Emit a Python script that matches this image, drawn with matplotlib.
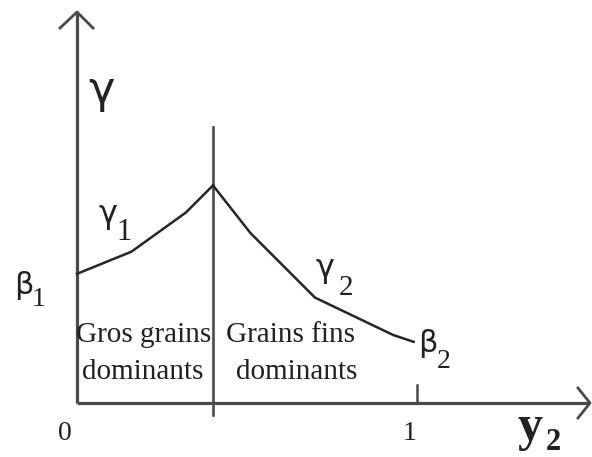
import matplotlib
matplotlib.use("Agg")
import matplotlib.pyplot as plt

# Data (y2 fraction, gamma in arbitrary units)
y2_coarse = [0.0, 0.16, 0.32, 0.40]
gamma_coarse = [0.38, 0.445, 0.56, 0.64]
y2_fine = [0.40, 0.51, 0.70, 0.93, 0.99]
gamma_fine = [0.64, 0.50, 0.31, 0.20, 0.18]
y2_split = 0.40
x_ticks = [0, 1]
x_tick_labels = ["0", "1"]

W, H = 592, 457
fig = plt.figure(figsize=(W / 100, H / 100), dpi=100)
ax = fig.add_axes([0, 0, 1, 1])
S = 340.0  # pixels per unit
x0, y0 = 77, 403
ax.set_xlim(-x0 / S, (W - x0) / S)
ax.set_ylim(-(H - y0) / S, y0 / S)
ax.axis("off")

axis_col = "#4a4a4a"
line_col = "#262626"

def px(x, y):
    return ((x - x0) / S, (y0 - y) / S)

# axes lines
ytop = px(77, 12)[1]
ax.plot([0, 0], [0, ytop], color=axis_col, lw=2.3, solid_capstyle="butt")
xend = px(590, 403)[0]
ax.plot([0, xend], [0, 0], color=axis_col, lw=2.3, solid_capstyle="butt")
# arrow heads
a = px(60, 28); b = px(93, 28)
ax.plot([a[0], 0, b[0]], [a[1], ytop, b[1]], color=axis_col, lw=2.0)
c = px(578, 388); d = px(578, 418)
ax.plot([c[0], xend, d[0]], [c[1], 0, d[1]], color=axis_col, lw=2.0)
# tick at 1
ax.plot([x_ticks[1], x_ticks[1]], [0, px(0, 385)[1]], color=axis_col, lw=1.8)

# split line
ax.plot([y2_split, y2_split], [px(0, 415)[1], px(0, 127)[1]], color=axis_col, lw=1.9)

# curves
ax.plot(y2_coarse, gamma_coarse, color=line_col, lw=1.8)
ax.plot(y2_fine, gamma_fine, color=line_col, lw=1.8)

serif = "Liberation Serif"
greek = "DejaVu Sans"

def t(x, y, s, size, family, ha="left", va="center", weight="normal"):
    fig.text(x / W, 1 - y / H, s, fontsize=size, family=family, ha=ha, va=va,
             weight=weight, color="#222222")

# tick labels
t(65, 434, x_tick_labels[0], 20, serif, ha="center")
t(410, 434, x_tick_labels[1], 20, serif, ha="center")

# axis labels
t(101, 91, "γ", 32, greek, ha="center", va="center")
t(530, 428, "y", 36, serif, ha="center", weight="bold")
t(553, 443, "2", 22, serif, ha="center", weight="bold")

# gamma1
t(108, 214, "γ", 23, greek, ha="center")
t(124, 232, "1", 22, serif, ha="center")
# beta1
t(24, 286, "β", 22, greek, ha="center")
t(39, 299, "1", 20, serif, ha="center")
# gamma2
t(325, 269, "γ", 23, greek, ha="center")
t(346, 288, "2", 21, serif, ha="center")
# beta2
t(428, 343, "β", 22, greek, ha="center")
t(444, 361, "2", 20, serif, ha="center")

# region texts
t(144, 335, "Gros grains", 21, serif, ha="center")
t(143, 372, "dominants", 21, serif, ha="center")
t(291, 335, "Grains fins", 21, serif, ha="center")
t(297, 372, "dominants", 21, serif, ha="center")

fig.savefig("out.png", dpi=100)
